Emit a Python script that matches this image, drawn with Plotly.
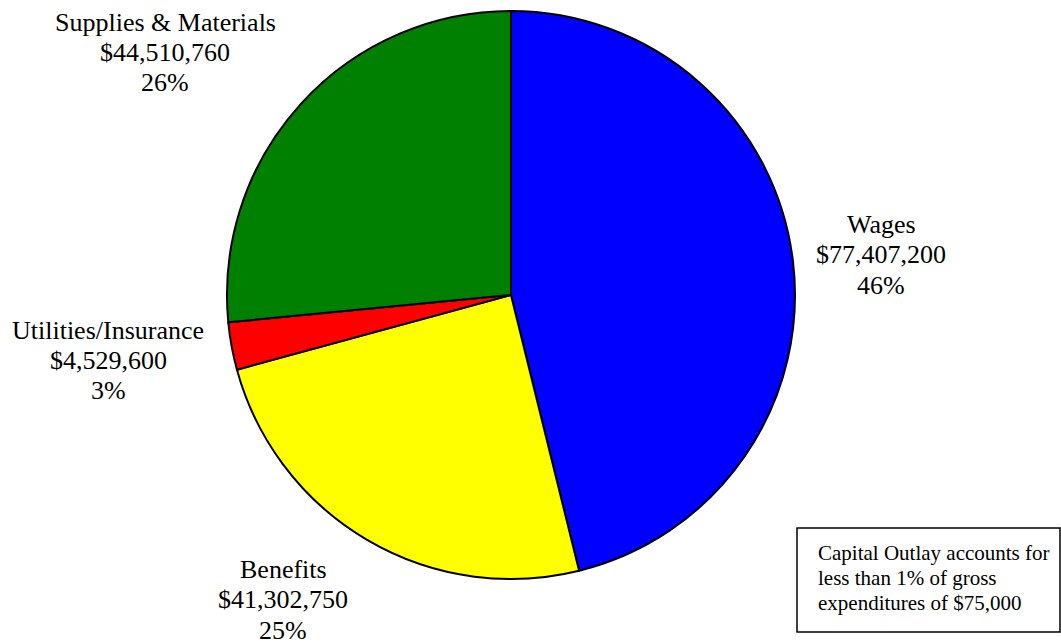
import plotly.graph_objects as go

categories = ["Wages", "Benefits", "Utilities/Insurance", "Supplies & Materials"]
amounts = [77407200, 41302750, 4529600, 44510760]
percent_labels = ["46%", "25%", "3%", "26%"]
colors = ["#0000FF", "#FFFF00", "#FF0000", "#008000"]
capital_outlay = 75000

W, H = 1061, 644
FONT = "Liberation Serif, Times New Roman, serif"

fig = go.Figure()
fig.add_trace(go.Pie(
    labels=categories,
    values=amounts,
    sort=False,
    direction="clockwise",
    rotation=0,
    textinfo="none",
    hoverinfo="label+value+percent",
    marker=dict(colors=colors, line=dict(color="black", width=2)),
    domain=dict(x=[0.2139, 0.7493], y=[0.1009, 0.9829]),
    showlegend=False,
))

# label positions in pixels (center x, center y of first line)
label_pos = [(881, 224), (283, 569), (108, 330), (165, 22)]
line_gap = 30.5
for cat, amt, pct, (px, py) in zip(categories, amounts, percent_labels, label_pos):
    for i, line in enumerate([cat, f"${amt:,}", pct]):
        fig.add_annotation(
            x=px / W, y=1 - (py + i * line_gap) / H, xref="paper", yref="paper",
            text=line, showarrow=False, xanchor="center", yanchor="middle",
            font=dict(family=FONT, size=26, color="black"),
        )

fig.add_shape(type="rect", xref="paper", yref="paper",
              x0=797 / W, x1=1060 / W, y0=1 - 632 / H, y1=1 - 528 / H,
              line=dict(color="black", width=1.5), fillcolor="white", layer="below")
note_lines = ["Capital Outlay accounts for", "less than 1% of gross",
              f"expenditures of ${capital_outlay:,}"]
for i, line in enumerate(note_lines):
    fig.add_annotation(
        x=816 / W, y=1 - (553 + i * 25) / H, xref="paper", yref="paper",
        text=line, showarrow=False, xanchor="left", yanchor="middle",
        font=dict(family=FONT, size=21, color="black"),
    )

fig.update_layout(
    width=W, height=H,
    margin=dict(l=0, r=0, t=0, b=0),
    paper_bgcolor="white", plot_bgcolor="white",
)
fig.write_html("out.html")
